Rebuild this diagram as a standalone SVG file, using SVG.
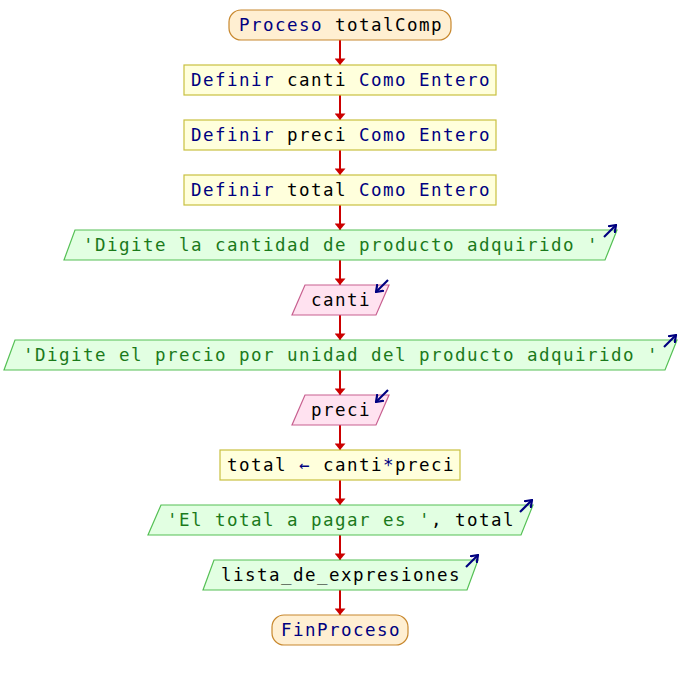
<svg xmlns="http://www.w3.org/2000/svg" width="680" height="680" viewBox="0 0 680 680">
<defs>
<style>
text{font-family:"DejaVu Sans Mono","Liberation Mono",monospace;font-size:17.5px;letter-spacing:1.46px;text-anchor:middle}
.k{fill:#000080}.i{fill:#000000}.s{fill:#1b7a1b}
.term{fill:#FFEFD2;stroke:#C8882E;stroke-width:1.2}
.proc{fill:#FFFFDC;stroke:#C8C040;stroke-width:1.2}
.out{fill:#E2FFE2;stroke:#55C055;stroke-width:1.2}
.in{fill:#FFE2F0;stroke:#C86090;stroke-width:1.2}
.con{stroke:#CC0000;stroke-width:2;fill:none}
.ico{stroke:#000080;stroke-width:2.2;fill:none}
</style>
<marker id="ah" viewBox="0 0 6 10" refX="6" refY="5" markerWidth="7" markerHeight="11" markerUnits="userSpaceOnUse" orient="auto"><path d="M0,0 L6,5 L0,10 z" fill="#CC0000"/></marker>
<marker id="ih" viewBox="0 0 8 10" refX="7" refY="5" markerWidth="8" markerHeight="10" markerUnits="userSpaceOnUse" orient="auto"><path d="M0,0 L7,5 L0,10" fill="none" stroke="#000080" stroke-width="2.2"/></marker>
</defs>
<rect width="680" height="680" fill="#FFFFFF"/>
<g id="connectors">
<line class="con" x1="340" y1="40" x2="340" y2="65" marker-end="url(#ah)"/>
<line class="con" x1="340" y1="95" x2="340" y2="120" marker-end="url(#ah)"/>
<line class="con" x1="340" y1="150" x2="340" y2="175" marker-end="url(#ah)"/>
<line class="con" x1="340" y1="205" x2="340" y2="230" marker-end="url(#ah)"/>
<line class="con" x1="340" y1="260" x2="340" y2="285" marker-end="url(#ah)"/>
<line class="con" x1="340" y1="315" x2="340" y2="340" marker-end="url(#ah)"/>
<line class="con" x1="340" y1="370" x2="340" y2="395" marker-end="url(#ah)"/>
<line class="con" x1="340" y1="425" x2="340" y2="450" marker-end="url(#ah)"/>
<line class="con" x1="340" y1="480" x2="340" y2="505" marker-end="url(#ah)"/>
<line class="con" x1="340" y1="535" x2="340" y2="560" marker-end="url(#ah)"/>
<line class="con" x1="340" y1="590" x2="340" y2="615" marker-end="url(#ah)"/>
</g>
<g id="start">
<rect class="term" x="229" y="10" width="222" height="30" rx="12"/>
<text x="341" y="31"><tspan class="k">Proceso</tspan><tspan class="i"> totalComp</tspan></text>
</g>
<g id="def-canti">
<rect class="proc" x="184" y="65" width="312" height="30"/>
<text x="341" y="86"><tspan class="k">Definir</tspan><tspan class="i"> canti </tspan><tspan class="k">Como Entero</tspan></text>
</g>
<g id="def-preci">
<rect class="proc" x="184" y="120" width="312" height="30"/>
<text x="341" y="141"><tspan class="k">Definir</tspan><tspan class="i"> preci </tspan><tspan class="k">Como Entero</tspan></text>
</g>
<g id="def-total">
<rect class="proc" x="184" y="175" width="312" height="30"/>
<text x="341" y="196"><tspan class="k">Definir</tspan><tspan class="i"> total </tspan><tspan class="k">Como Entero</tspan></text>
</g>
<g id="out1">
<polygon class="out" points="75,230 617,230 605,260 64,260"/>
<text x="341" y="251" class="s">'Digite la cantidad de producto adquirido '</text>
<line class="ico" x1="604" y1="237" x2="616" y2="225" marker-end="url(#ih)"/>
</g>
<g id="in-canti">
<polygon class="in" points="305,285 389,285 376,315 292,315"/>
<text x="341" y="306" class="i">canti</text>
<line class="ico" x1="388" y1="280" x2="376" y2="292" marker-end="url(#ih)"/>
</g>
<g id="out2">
<polygon class="out" points="15,340 677,340 665,370 4,370"/>
<text x="341" y="361" class="s">'Digite el precio por unidad del producto adquirido '</text>
<line class="ico" x1="664" y1="347" x2="676" y2="335" marker-end="url(#ih)"/>
</g>
<g id="in-preci">
<polygon class="in" points="305,395 389,395 376,425 292,425"/>
<text x="341" y="416" class="i">preci</text>
<line class="ico" x1="388" y1="390" x2="376" y2="402" marker-end="url(#ih)"/>
</g>
<g id="assign">
<rect class="proc" x="220" y="450" width="240" height="30"/>
<text x="341" y="471"><tspan class="i">total </tspan><tspan class="k">←</tspan><tspan class="i"> canti</tspan><tspan class="k">*</tspan><tspan class="i">preci</tspan></text>
</g>
<g id="out3">
<polygon class="out" points="161,505 533,505 521,535 148,535"/>
<text x="341" y="526"><tspan class="s">'El total a pagar es '</tspan><tspan class="i">, total</tspan></text>
<line class="ico" x1="520" y1="512" x2="532" y2="500" marker-end="url(#ih)"/>
</g>
<g id="out4">
<polygon class="out" points="214,560 478,560 467,590 203,590"/>
<text x="341" y="581" class="i">lista_de_expresiones</text>
<line class="ico" x1="466" y1="567" x2="478" y2="555" marker-end="url(#ih)"/>
</g>
<g id="end">
<rect class="term" x="272" y="615" width="136" height="30" rx="12"/>
<text x="341" y="636" class="k">FinProceso</text>
</g>
</svg>
